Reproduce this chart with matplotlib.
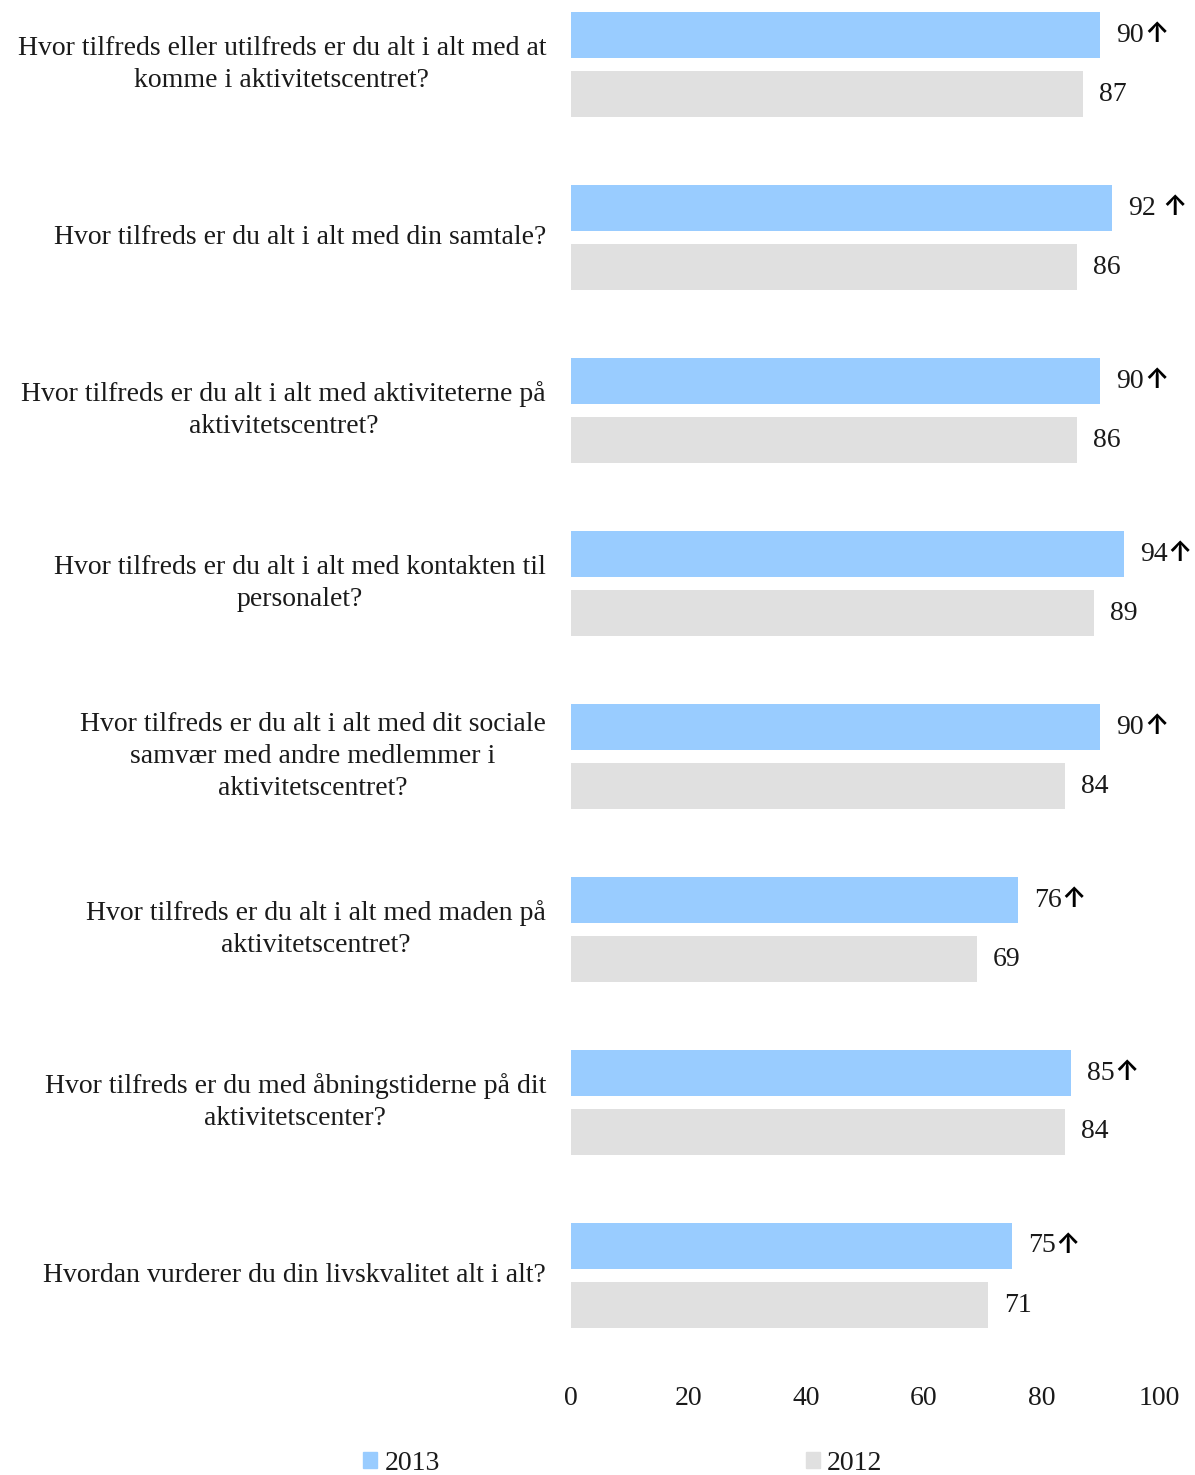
import matplotlib
matplotlib.use("Agg")
import matplotlib.pyplot as plt
from matplotlib.patches import Patch

categories = [
    "Hvor tilfreds eller utilfreds er du alt i alt med at\nkomme i aktivitetscentret?",
    "Hvor tilfreds er du alt i alt med din samtale?",
    "Hvor tilfreds er du alt i alt med aktiviteterne på\naktivitetscentret?",
    "Hvor tilfreds er du alt i alt med kontakten til\npersonalet?",
    "Hvor tilfreds er du alt i alt med dit sociale\nsamvær med andre medlemmer i\naktivitetscentret?",
    "Hvor tilfreds er du alt i alt med maden på\naktivitetscentret?",
    "Hvor tilfreds er du med åbningstiderne på dit\naktivitetscenter?",
    "Hvordan vurderer du din livskvalitet alt i alt?",
]
values_2013 = [90, 92, 90, 94, 90, 76, 85, 75]
values_2012 = [87, 86, 86, 89, 84, 69, 84, 71]
arrow_2013 = ["↑", " ↑", "↑", "↑", "↑", "↑", "↑", "↑"]
series_names = ["2013", "2012"]
xticks = [0, 20, 40, 60, 80, 100]

c13 = "#99CCFF"
c12 = "#E0E0E0"
txt = "#1a1a1a"
fam = ["Liberation Serif", "DejaVu Sans"]
fs = 20

W, H = 1195, 1475
fig = plt.figure(figsize=(W / 100, H / 100), dpi=100)
left, right, top, bottom = 571, 1159, 0, 1362
ax = fig.add_axes([left / W, 1 - bottom / H, (right - left) / W, (bottom - top) / H])

step = 173.0
off = 29.5 / step
bh = 46 / step
n = len(categories)
ys = list(range(n))
ax.barh([y - off for y in ys], values_2013, height=bh, color=c13)
ax.barh([y + off for y in ys], values_2012, height=bh, color=c12)

ax.set_xlim(0, 100)
ax.set_ylim(n - 0.5, -0.5 + 22 / step)

dx = 16 / 5.88
for y, v, a in zip(ys, values_2013, arrow_2013):
    t = ax.text(v + dx, y - off, f"{v}", va="center", ha="left", fontsize=fs,
                family=fam, color=txt)
    ax.annotate(a, xy=(1, 0.5), xycoords=t, xytext=(0, 0), textcoords="offset points",
                va="center", ha="left", fontsize=20, family=["Inter", "DejaVu Sans"],
                fontweight="semibold", color="black")
for y, v in zip(ys, values_2012):
    ax.text(v + dx, y + off, f"{v}", va="center", ha="left", fontsize=fs,
            family=fam, color=txt)

for y, c in zip(ys, categories):
    ax.text(-25 / 5.88, y, c, va="center", ha="right", ma="center",
            fontsize=fs, family=fam, color=txt, linespacing=1.37)

ax.set_yticks([])
ax.set_xticks(xticks)
ax.set_xticklabels([str(t) for t in xticks], fontsize=fs, family=fam, color=txt)
ax.tick_params(axis="x", length=0, pad=17)
for sp in ax.spines.values():
    sp.set_visible(False)

handles = [Patch(color=c13, label=series_names[0]), Patch(color=c12, label=series_names[1])]
leg = fig.legend(handles=handles, ncol=2, loc="center", bbox_to_anchor=(623 / W, 1 - 1463 / H),
                 frameon=False, prop={"family": fam, "size": fs}, handlelength=0.5,
                 handleheight=0.5, handletextpad=0.25, columnspacing=13.2, borderaxespad=0)
for t in leg.get_texts():
    t.set_color(txt)

fig.savefig("out.png", dpi=100)
